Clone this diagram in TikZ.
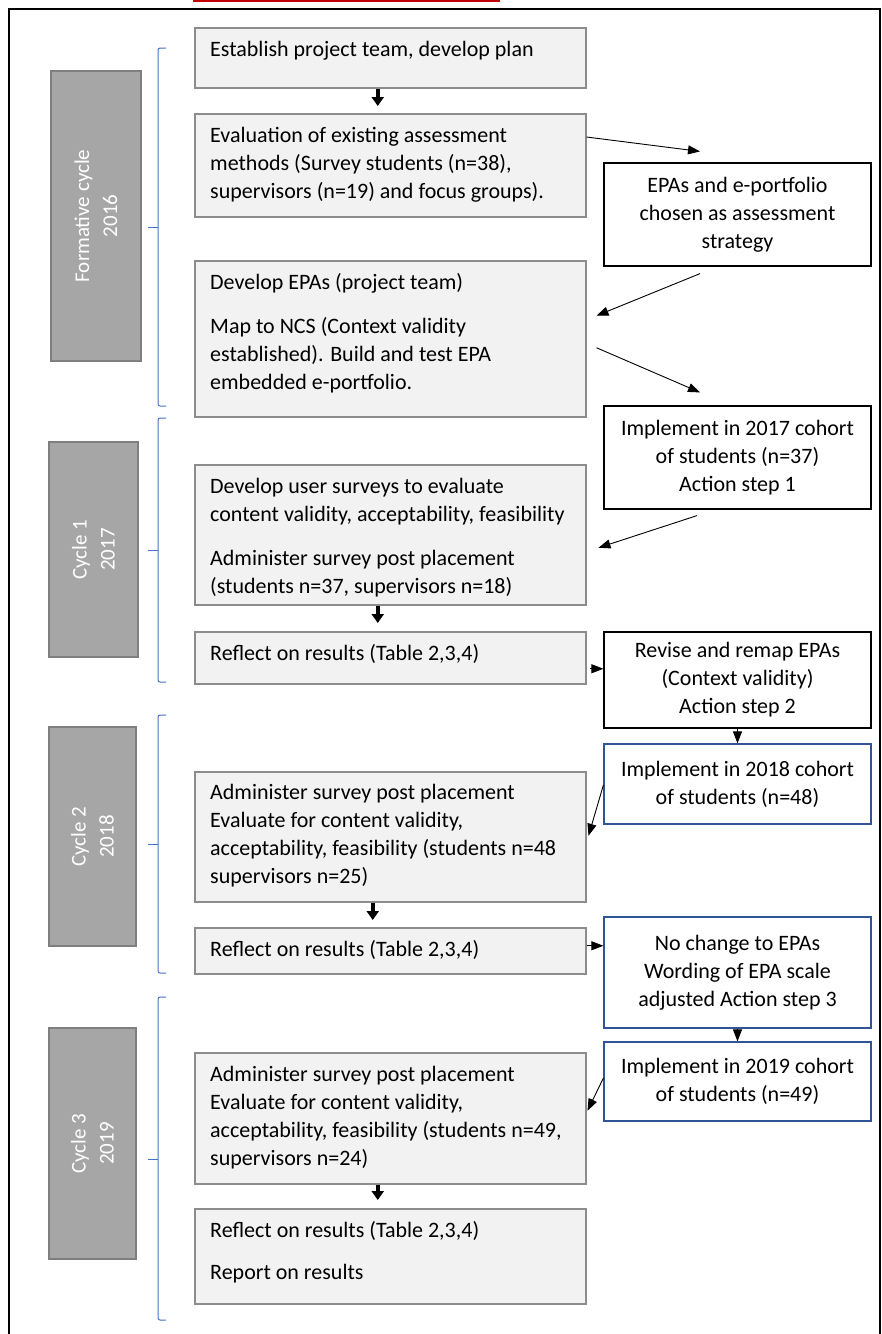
\documentclass[tikz,border=0pt]{standalone}
\usepackage{fontspec}
\setmainfont{Carlito}
\usetikzlibrary{arrows.meta,calc}
\definecolor{boxfill}{HTML}{F2F2F2}
\definecolor{boxline}{HTML}{8C8C8C}
\definecolor{sidefill}{HTML}{A6A6A6}
\definecolor{sideline}{HTML}{7F7F7F}
\definecolor{brblue}{HTML}{4472C4}
\definecolor{navy}{HTML}{2F5597}
\definecolor{topred}{HTML}{C00000}
\begin{document}
\begin{tikzpicture}[x=1pt,y=-1pt,
  mainbox/.style={draw=boxline, fill=boxfill, line width=1.5pt, anchor=north west,
    minimum width=391pt, inner sep=0pt},
  mtxt/.style={anchor=north west, inner sep=0pt, align=left,
    font=\fontsize{22}{28}\selectfont},
  rbox/.style={draw=black, line width=1.2pt, fill=white, minimum width=267pt,
    inner sep=0pt, align=center, font=\fontsize{22}{28}\selectfont},
  nbox/.style={rbox, draw=navy},
  sidebox/.style={draw=sideline, fill=sidefill, line width=1.5pt, rotate=90,
    inner sep=0pt, align=center, text=white, font=\fontsize{21}{28}\selectfont},
  thickarr/.style={line width=3.5pt, -{Triangle[length=9pt,width=12pt]}},
  thinarr/.style={line width=0.9pt, -{Triangle[length=12pt,width=9pt]}},
  brace/.style={draw=brblue, line width=1pt, rounded corners=2pt},
]
\useasboundingbox (0,0) rectangle (882,1334);
\clip (0,0) rectangle (882,1334);

% frame and top strip
\draw[line width=1.5pt] (9,1400) -- (9,9) -- (880,9) -- (880,1400);
\fill[topred] (193,0) rectangle (500,2);

% side labels
\node[sidebox, minimum width=290pt, minimum height=90pt] (s0) at (96,216) {Formative cycle\\2016};
\node[sidebox, minimum width=215pt, minimum height=89pt] (s1) at (93.5,549.5) {Cycle 1\\2017};
\node[sidebox, minimum width=219pt, minimum height=87pt] (s2) at (92.5,836.5) {Cycle 2\\2018};
\node[sidebox, minimum width=231pt, minimum height=87pt] (s3) at (92.5,1143.5) {Cycle 3\\2019};

% brackets
\draw[brace] (166,48) -- (158,48) -- (158,406) -- (166,406);
\draw[brace] (158,227) -- (148,227);
\draw[brace] (166,418) -- (158,418) -- (158,682) -- (166,682);
\draw[brace] (158,550) -- (148,550);
\draw[brace] (166,715) -- (158,715) -- (158,973) -- (166,973);
\draw[brace] (158,844) -- (148,844);
\draw[brace] (166,997) -- (158,997) -- (158,1320) -- (166,1320);
\draw[brace] (158,1159) -- (148,1159);

% main boxes
\node[mainbox, minimum height=60pt]  (b1) at (194,27) {};
\node[mainbox, minimum height=103pt] (b2) at (194,113) {};
\node[mainbox, minimum height=156pt] (b3) at (194,260) {};
\node[mainbox, minimum height=140pt] (b4) at (194,464) {};
\node[mainbox, minimum height=52pt]  (b5) at (194,631) {};
\node[mainbox, minimum height=130pt] (b6) at (194,771) {};
\node[mainbox, minimum height=46pt]  (b7) at (194,927) {};
\node[mainbox, minimum height=131pt] (b8) at (194,1052) {};
\node[mainbox, minimum height=95pt]  (b9) at (194,1208) {};

\node[mtxt] (t1) at ($(b1.north west)+(16pt,-9pt)$) {\rule{0pt}{20pt}Establish project team, develop plan};
\node[mtxt] (t2) at ($(b2.north west)+(16pt,-9pt)$) {\rule{0pt}{20pt}Evaluation of existing assessment\\methods (Survey students (n=38),\\supervisors (n=19) and focus groups).};
\node[mtxt] (t3) at ($(b3.north west)+(16pt,-9pt)$) {\rule{0pt}{20pt}Develop EPAs (project team)\\[16pt]Map to NCS (Context validity\\established). Build and test EPA\\embedded e-portfolio.};
\node[mtxt] (t4) at ($(b4.north west)+(16pt,-9pt)$) {\rule{0pt}{20pt}Develop user surveys to evaluate\\content validity, acceptability, feasibility\\[16pt]Administer survey post placement\\(students n=37, supervisors n=18)};
\node[mtxt] (t5) at ($(b5.north west)+(16pt,-9pt)$) {\rule{0pt}{20pt}Reflect on results (Table 2,3,4)};
\node[mtxt] (t6) at ($(b6.north west)+(16pt,-8pt)$) {\rule{0pt}{20pt}Administer survey post placement\\Evaluate for content validity,\\acceptability, feasibility (students n=48\\supervisors n=25)};
\node[mtxt] (t7) at ($(b7.north west)+(16pt,-9pt)$) {\rule{0pt}{20pt}Reflect on results (Table 2,3,4)};
\node[mtxt] (t8) at ($(b8.north west)+(16pt,-9pt)$) {\rule{0pt}{20pt}Administer survey post placement\\Evaluate for content validity,\\acceptability, feasibility (students n=49,\\supervisors n=24)};
\node[mtxt] (t9) at ($(b9.north west)+(16pt,-9pt)$) {\rule{0pt}{20pt}Reflect on results (Table 2,3,4)\\[14pt]Report on results};

% right boxes
\node[rbox, minimum height=103pt] (epa) at (737.5,214.5) {EPAs and e-portfolio\\chosen as assessment\\strategy};
\node[rbox, minimum height=103pt] (i17) at (737.5,457.5) {Implement in 2017 cohort\\of students (n=37)\\Action step 1};
\node[rbox, minimum height=96pt]  (rev) at (737.5,680) {Revise and remap EPAs\\(Context validity)\\Action step 2};
\node[nbox, minimum height=80pt]  (i18) at (737.5,784) {Implement in 2018 cohort\\of students (n=48)};
\node[nbox, minimum height=111pt] (noc) at (737.5,972.5) {No change to EPAs\\Wording of EPA scale\\adjusted Action step 3};
\node[nbox, minimum height=79pt]  (i19) at (737.5,1081.5) {Implement in 2019 cohort\\of students (n=49)};

% thick down arrows
\draw[thickarr] ($(b1.south)+(-12.5pt,0)$) -- ($(b2.north)+(-12.5pt,7pt)$);
\draw[thickarr] ($(b4.south)+(-12.5pt,0)$) -- ($(b5.north)+(-12.5pt,8pt)$);
\draw[thickarr] ($(b6.south)+(-17.5pt,0)$) -- ($(b7.north)+(-17.5pt,7pt)$);
\draw[thickarr] ($(b8.south)+(-12.5pt,0)$) -- ($(b9.north)+(-12.5pt,8pt)$);

% thin arrows
\coordinate (a1s) at ($(b2.north east)+(0,-24pt)$);
\coordinate (a1e) at ($(epa.north)+(-37.5pt,11pt)$);
\draw[thinarr] (a1s) -- (a1e);
\coordinate (a2s) at ($(epa.south)+(-37.5pt,-7pt)$);
\coordinate (a2e) at ($(b3.east)+(10pt,23pt)$);
\draw[thinarr] (a2s) -- (a2e);
\coordinate (a3s) at ($(b3.east)+(10pt,-9pt)$);
\coordinate (a3e) at ($(i17.north)+(-37.5pt,13pt)$);
\draw[thinarr] (a3s) -- (a3e);
\coordinate (a4s) at ($(i17.south)+(-40.5pt,-6pt)$);
\coordinate (a4e) at ($(b4.east)+(12pt,-13pt)$);
\draw[thinarr] (a4s) -- (a4e);
\coordinate (a5s) at ($(i18.west)+(0,-1pt)$);
\coordinate (a5e) at ($(b6.east)+(2pt,1pt)$);
\draw[thinarr] (a5s) -- (a5e);
\coordinate (a6s) at ($(i19.west)+(0,3.5pt)$);
\coordinate (a6e) at ($(b8.east)+(1pt,7.5pt)$);
\draw[thinarr] (a6s) -- (a6e);
\coordinate (h1) at ($(b5.east)+(3pt,-11pt)$);
\draw[thinarr] (h1) -- (h1 -| rev.west);
\coordinate (h2) at ($(b7.east)+(0,5pt)$);
\draw[thinarr] (h2) -- (h2 -| noc.west);
\draw[thinarr] (rev.south) -- (i18.north);
\draw[thinarr] (noc.south) -- (i19.north);
\end{tikzpicture}
\end{document}
